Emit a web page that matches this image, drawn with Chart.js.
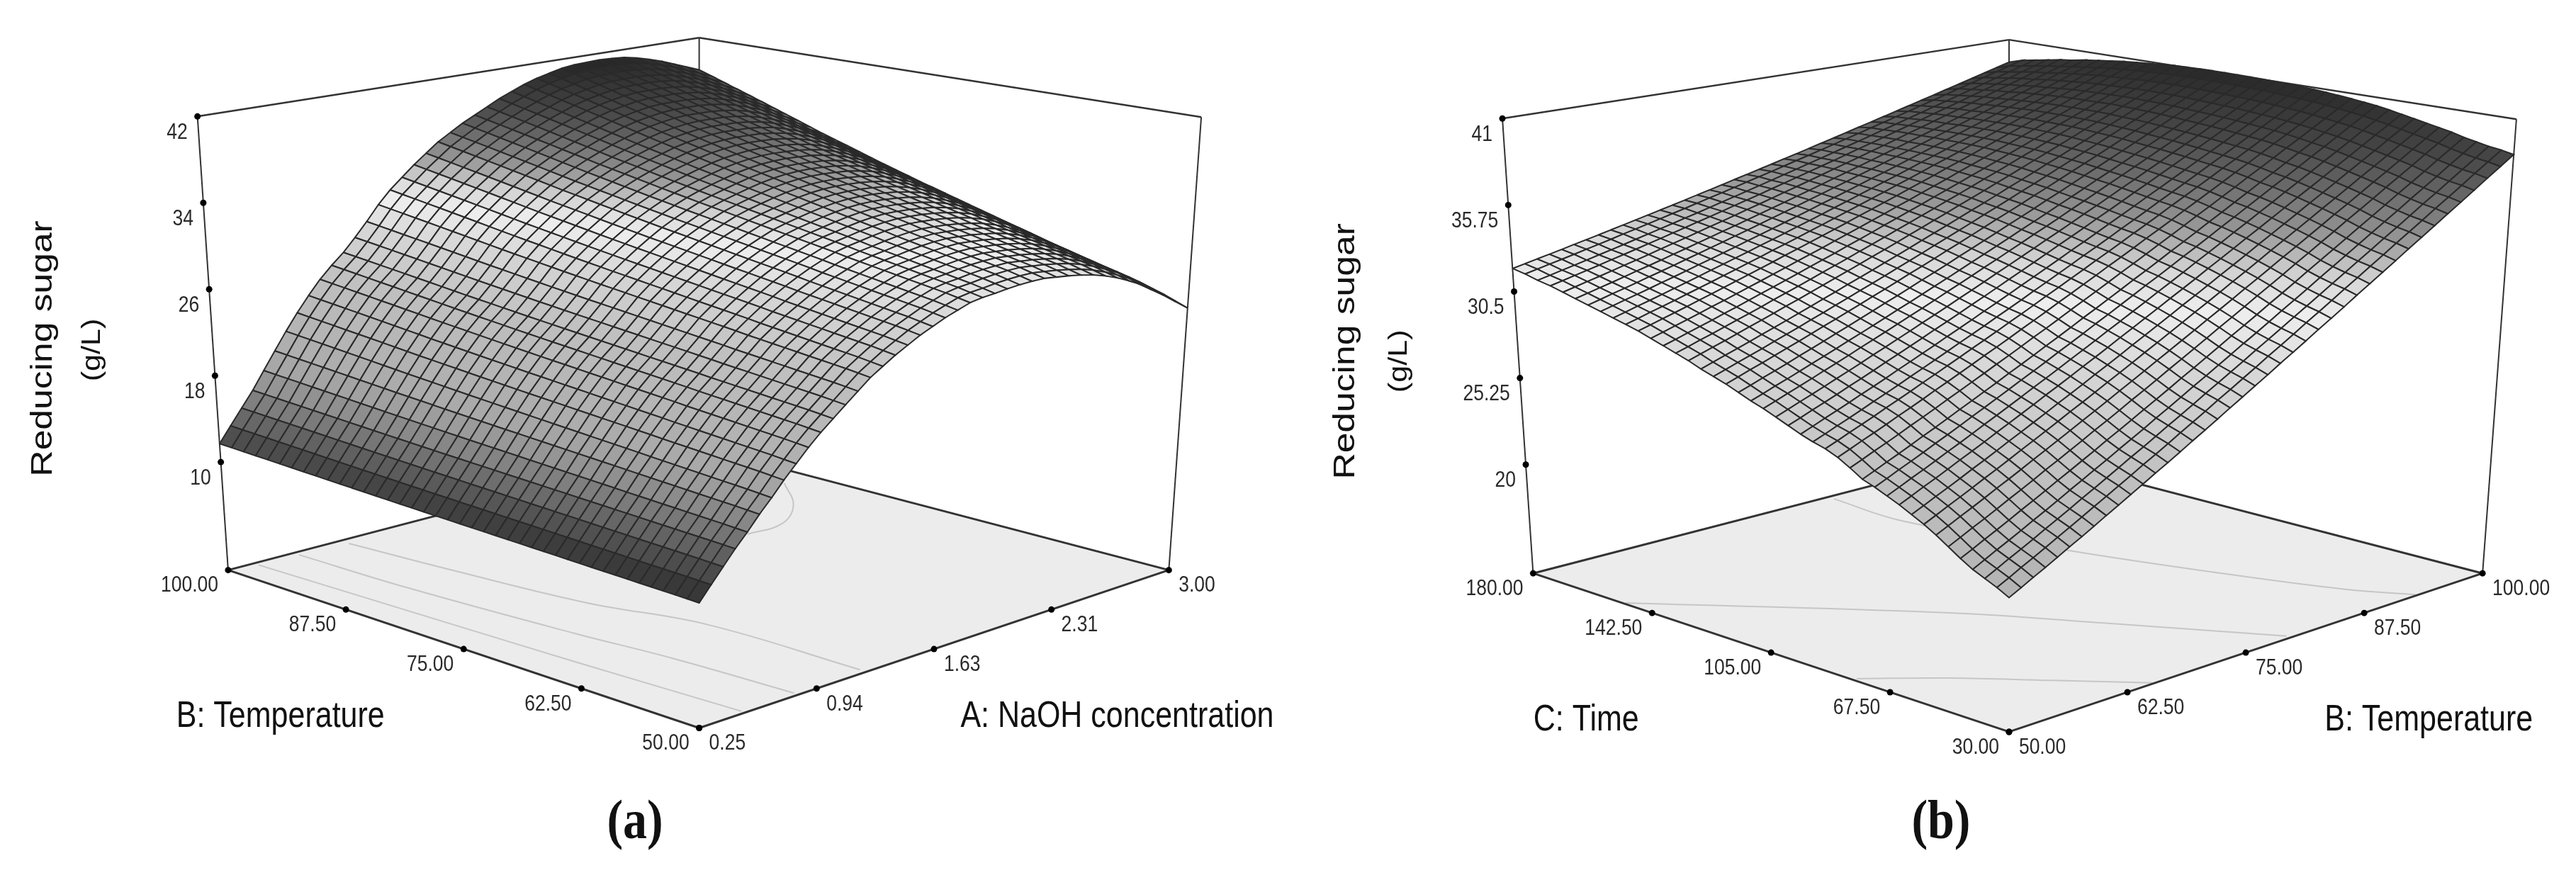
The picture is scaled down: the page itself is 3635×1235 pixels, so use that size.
<!DOCTYPE html>
<html>
<head>
<meta charset="utf-8">
<title>Reducing sugar response surfaces</title>
<script src="https://cdn.jsdelivr.net/npm/chart.js@4"></script>
<style>
    html, body { margin: 0; background: #fff; }
    body { position: relative; width: 3635px; height: 1235px; overflow: hidden; }
    canvas { position: absolute; top: 0; filter: blur(0.6px); }
    #panelA { left: 0; }
    #panelB { left: 1818px; }
</style>
</head>
<body>
<canvas id="panelA" width="1818" height="1235"></canvas>
<canvas id="panelB" width="1817" height="1235"></canvas>
<script>
'use strict';

// panel (a): sugar along the NaOH axis (0.25 -> 3.00) at the two temperature edges
const sugarNaohAt100 = [11.7, 13.1, 14.5, 15.9, 17.5, 19.1, 20.7, 22.2, 23.6, 24.9, 26.0, 27.0, 28.2, 29.5, 30.9, 32.1, 33.1, 34.1, 35.0, 35.9, 36.6, 37.3, 37.9, 38.5, 39.1, 39.6, 40.1, 40.5, 40.8, 41.1, 41.25, 41.3, 41.35, 41.3, 41.2, 40.95, 40.6, 40.2, 39.7, 39.2, 38.7];
const sugarNaohAt50 = [10.3, 11.5, 12.7, 13.9, 15.0, 16.2, 17.3, 18.5, 19.6, 20.7, 21.7, 22.6, 23.5, 24.4, 25.3, 26.0, 26.7, 27.3, 27.9, 28.4, 28.9, 29.3, 29.7, 29.9, 30.0, 30.15, 30.25, 30.3, 30.3, 30.15, 30.0, 29.8, 29.55, 29.2, 28.75, 28.2, 27.6, 26.9, 26.1, 25.2, 24.3];
// how far each temperature row sits between the 100 edge (0) and the 50 edge (1)
const temperatureShareA = [0, .03, .06, .09, .12, .15, .18, .21, .24, .27, .30, .327, .354, .381, .408, .435, .46, .485, .51, .533, .556, .58, .603, .626, .649, .672, .694, .716, .738, .76, .785, .806, .827, .848, .869, .89, .91, .93, .95, .975, 1];

// panel (b): sugar along the time axis (180 -> 30) at the two temperature edges
const sugarTimeAt50 = [31.9, 31.75, 31.55, 31.4, 31.2, 31.0, 30.8, 30.6, 30.4, 30.2, 30.0, 29.75, 29.5, 29.25, 29.0, 28.7, 28.45, 28.2, 27.9, 27.6, 27.35, 27.05, 26.75, 26.45, 26.2, 26.0, 25.7, 25.3, 24.85, 24.6, 24.3, 24.0, 23.65, 23.3, 22.9, 22.45, 22.0, 21.6, 21.3, 21.0, 20.65];
const sugarTimeAt100 = [39.5, 39.75, 39.9, 40.05, 40.2, 40.3, 40.45, 40.55, 40.65, 40.75, 40.82, 40.88, 40.94, 41.0, 41.03, 41.05, 41.06, 41.06, 41.05, 41.04, 41.02, 41.0, 40.97, 40.93, 40.88, 40.82, 40.75, 40.67, 40.58, 40.48, 40.35, 40.2, 40.05, 39.9, 39.75, 39.6, 39.4, 39.25, 39.1, 39.0, 38.85];
// how far each temperature column sits between the 50 edge (0) and the 100 edge (1)
const temperatureShareB = [0, .019, .039, .058, .078, .099, .119, .14, .162, .183, .205, .227, .25, .272, .295, .319, .342, .366, .391, .415, .44, .465, .491, .516, .542, .569, .595, .622, .65, .677, .705, .733, .762, .79, .819, .849, .878, .908, .939, .969, 1];

// tick labels
const sugarTicksA = [42, 34, 26, 18, 10];
const sugarTicksB = ['41', '35.75', '30.5', '25.25', '20'];
const temperatureTicks = ['100.00', '87.50', '75.00', '62.50', '50.00'];
const naohTicks = ['0.25', '0.94', '1.63', '2.31', '3.00'];
const timeTicks = ['180.00', '142.50', '105.00', '67.50', '30.00'];

// contour lines on the floor, [naoh values, temperature values]
const contoursA = [
    [[0.905, 0.965, 1.06, 1.21, 1.23], [99.1, 89.2, 76.6, 66.6, 50.7]],
    [[0.632, 0.654, 0.734, 0.795, 0.833], [99.4, 88.3, 72, 62.7, 50.5]],
    [[0.40, 0.445, 0.473, 0.52], [99.5, 79.7, 67.3, 50.4]],
    [[2.85, 2.645, 2.42, 2.21], [88.2, 83.5, 80.6, 80.5]]
];
// contour lines on the floor, [temperature values, time values]
const contoursB = [
    [[50.2, 66.5, 73, 79.8], [151.4, 98.1, 67.5, 31.5]],
    [[50.4, 55.5, 60.5, 65.3], [79.2, 65.3, 48, 30.5]],
    [[80.95, 80.5, 83.85, 87.5, 90.65, 93.1], [178, 155.3, 112.5, 75, 46, 30.6]]
];

// height colours: the original rainbow map as it came out in greyscale
const shadeHeights = [10, 11.5, 13, 15, 17, 18.5, 21, 25, 29, 31.5, 33, 35, 36.8, 38.5, 40, 41.3];
const shadeGreys = [44, 64, 90, 125, 155, 170, 180, 192, 215, 238, 215, 148, 105, 72, 54, 38];

const GRID_STEPS = 40;
const LABEL_FONT = '"Liberation Sans", Arial, sans-serif';

function steps(from, to) {
    const out = [];
    for (let i = 0; i <= GRID_STEPS; i++) out.push(from + (to - from) * i / GRID_STEPS);
    return out;
}

function mix(a, b, t) {
    return a + (b - a) * t;
}

function shade(z) {
    let i = 0;
    while (i < shadeHeights.length - 2 && z > shadeHeights[i + 1]) i++;
    const t = Math.max(0, Math.min(1, (z - shadeHeights[i]) / (shadeHeights[i + 1] - shadeHeights[i])));
    const g = Math.round(mix(shadeGreys[i], shadeGreys[i + 1], t));
    return `rgb(${g},${g},${g})`;
}

const panelA = {
    id: 'panelA',
    xRange: [0, 1818],
    zRange: [0, 42],
    rightRange: [0.25, 3],
    leftRange: [50, 100],
    floor: { front: [987, 1030.5], right: [1653, 806], back: [987, 631], left: [319, 806] },
    top: { front: [987, 305.5], right: [1699, 162], back: [987, 49], left: [275.5, 161] },
    rightLevels: steps(0.25, 3),
    leftLevels: steps(100, 50),
    sugar: (i, j) => mix(sugarNaohAt100[i], sugarNaohAt50[i], temperatureShareA[j]),
    contours: contoursA,
    zTicks: sugarTicksA.map(String),
    zTickValues: sugarTicksA,
    leftTicks: temperatureTicks,
    rightTicks: naohTicks,
    titles: [
        { text: 'Reducing sugar', x: 69, y: 491, size: 43, align: 'center', angle: -90 },
        { text: '(g/L)', x: 137, y: 493, size: 36, align: 'center', angle: -90 },
        { text: 'B: Temperature', x: 245.5, y: 1029, size: 43, align: 'left' },
        { text: 'A: NaOH concentration', x: 1357.6, y: 1028.5, size: 43, align: 'left' },
        { text: '(a)', x: 896, y: 1187, size: 68, align: 'center', serif: true }
    ]
};

const panelB = {
    id: 'panelB',
    xRange: [1818, 3635],
    zRange: [13.4, 41],
    rightRange: [50, 100],
    leftRange: [30, 180],
    floor: { front: [2835.5, 1036], right: [3507, 810.6], back: [2835.5, 635.5], left: [2160.6, 810.6] },
    top: { front: [2835.5, 309.5], right: [3555, 165], back: [2835.5, 52], left: [2117, 164] },
    rightLevels: steps(50, 100),
    leftLevels: steps(180, 30),
    sugar: (i, j) => mix(sugarTimeAt50[j], sugarTimeAt100[j], temperatureShareB[i]),
    contours: contoursB,
    zTicks: sugarTicksB,
    zTickValues: sugarTicksB.map(Number),
    leftTicks: timeTicks,
    rightTicks: temperatureTicks.slice().reverse(),
    titles: [
        { text: 'Reducing sugar', x: 1907, y: 495, size: 43, align: 'center', angle: -90 },
        { text: '(g/L)', x: 1981, y: 509, size: 36, align: 'center', angle: -90 },
        { text: 'C: Time', x: 2161, y: 1034, size: 43, align: 'left' },
        { text: 'B: Temperature', x: 3283, y: 1034, size: 43, align: 'left' },
        { text: '(b)', x: 2739, y: 1187, size: 68, align: 'center', serif: true }
    ]
};

// u runs front -> right, v runs front -> left, height is straight up between floor and lid
function project(panel, u, v, z) {
    const w = (z - panel.zRange[0]) / (panel.zRange[1] - panel.zRange[0]);
    const corner = (plane, k) => mix(
        mix(plane.front[k], plane.right[k], u),
        mix(plane.left[k], plane.back[k], u),
        v
    );
    return {
        x: mix(corner(panel.floor, 0), corner(panel.top, 0), w),
        y: mix(corner(panel.floor, 1), corner(panel.top, 1), w)
    };
}

function axisShare(range, value) {
    return (value - range[0]) / (range[1] - range[0]);
}

function pathDataset(points, style) {
    return Object.assign({
        data: points,
        showLine: true,
        pointRadius: 0,
        pointHitRadius: 0,
        clip: false
    }, style);
}

function frameLine(panel, from, to, width) {
    return pathDataset([
        { x: from[0], y: from[1] },
        { x: to[0], y: to[1] }
    ], { borderColor: '#333', borderWidth: width });
}

function surfaceCells(panel) {
    const cells = [];
    const us = panel.rightLevels.map((value) => axisShare(panel.rightRange, value));
    const vs = panel.leftLevels.map((value) => axisShare(panel.leftRange, value));
    const corner = (i, j) => project(panel, us[i], vs[j], panel.sugar(i, j));
    for (let i = 0; i < GRID_STEPS; i++) {
        for (let j = 0; j < GRID_STEPS; j++) {
            const height = (panel.sugar(i, j) + panel.sugar(i + 1, j) + panel.sugar(i, j + 1) + panel.sugar(i + 1, j + 1)) / 4;
            cells.push({
                depth: us[i] + us[i + 1] + vs[j] + vs[j + 1],
                dataset: pathDataset(
                    [corner(i, j), corner(i + 1, j), corner(i + 1, j + 1), corner(i, j + 1), corner(i, j)],
                    { backgroundColor: shade(height), fill: 'shape', borderColor: '#2a2a2a', borderWidth: 2 }
                )
            });
        }
    }
    cells.sort((a, b) => b.depth - a.depth);
    return cells.map((cell) => cell.dataset);
}

function tickPoints(panel) {
    const f = panel.floor;
    const points = [];
    const along = (a, b, n, i) => ({ x: mix(a[0], b[0], i / n), y: mix(a[1], b[1], i / n) });
    for (let i = 0; i < 5; i++) {
        points.push(along(f.left, f.front, 4, i));
        points.push(along(f.front, f.right, 4, i));
    }
    panel.zTickValues.forEach((value) => points.push(project(panel, 0, 1, value)));
    return points;
}

function panelTexts(panel) {
    const f = panel.floor;
    const texts = [];
    panel.leftTicks.forEach((text, i) => {
        texts.push({ text, x: mix(f.left[0], f.front[0], i / 4) - 14, y: mix(f.left[1], f.front[1], i / 4) + 31, size: 26.5, align: 'right' });
    });
    panel.rightTicks.forEach((text, i) => {
        texts.push({ text, x: mix(f.front[0], f.right[0], i / 4) + 14, y: mix(f.front[1], f.right[1], i / 4) + 31, size: 26.5, align: 'left' });
    });
    panel.zTicks.forEach((text, i) => {
        const p = project(panel, 0, 1, panel.zTickValues[i]);
        texts.push({ text, x: p.x - 14, y: p.y + 32, size: 26.5, align: 'right' });
    });
    return texts.concat(panel.titles);
}

const textPlugin = {
    id: 'panelText',
    afterDraw(chart, args, options) {
        const { ctx, scales } = chart;
        options.items.forEach((item) => {
            ctx.save();
            ctx.translate(scales.x.getPixelForValue(item.x), scales.y.getPixelForValue(item.y));
            if (item.angle) {
                ctx.rotate(item.angle * Math.PI / 180);
                ctx.scale(1.2, 1);
            } else {
                ctx.scale(1, item.serif ? 1.15 : 1.2);
            }
            ctx.font = item.serif ? `bold ${item.size}px "Liberation Serif", serif` : `${item.size}px ${LABEL_FONT}`;
            ctx.fillStyle = item.size < 30 ? '#2a2a2a' : '#111';
            ctx.textAlign = item.align;
            ctx.textBaseline = 'alphabetic';
            ctx.fillText(item.text, 0, 0);
            ctx.restore();
        });
    }
};

function makePanel(panel) {
    const f = panel.floor;
    const t = panel.top;
    // listed back to front, the chart paints its first dataset last
    const layers = [];
    layers.push(pathDataset(
        [f.front, f.right, f.back, f.left, f.front].map((c) => ({ x: c[0], y: c[1] })),
        { backgroundColor: '#ececec', fill: 'shape', borderWidth: 0, borderColor: 'transparent' }
    ));
    panel.contours.forEach((contour) => {
        layers.push(pathDataset(contour[0].map((value, i) => {
            return project(panel, axisShare(panel.rightRange, value), axisShare(panel.leftRange, contour[1][i]), panel.zRange[0]);
        }), { borderColor: '#c6c6c6', borderWidth: 2, tension: 0.4 }));
    });
    layers.push(frameLine(panel, f.left, f.back, 3));
    layers.push(frameLine(panel, f.back, f.right, 3));
    layers.push(frameLine(panel, f.back, t.back, 2));
    layers.push(frameLine(panel, t.left, t.back, 2.5));
    layers.push(frameLine(panel, t.back, t.right, 2.5));
    layers.push(frameLine(panel, f.left, t.left, 2));
    layers.push(frameLine(panel, f.right, t.right, 2));
    surfaceCells(panel).forEach((dataset) => layers.push(dataset));
    layers.push(frameLine(panel, f.left, f.front, 3));
    layers.push(frameLine(panel, f.front, f.right, 3));
    layers.push({
        data: tickPoints(panel),
        showLine: false,
        pointRadius: 4.5,
        pointBackgroundColor: '#000',
        pointBorderWidth: 0,
        clip: false
    });

    return new Chart(document.getElementById(panel.id), {
        type: 'scatter',
        data: { datasets: layers.reverse() },
        plugins: [textPlugin],
        options: {
            responsive: false,
            animation: false,
            events: [],
            layout: { padding: 0 },
            plugins: {
                legend: { display: false },
                tooltip: { enabled: false },
                panelText: { items: panelTexts(panel) }
            },
            scales: {
                x: { type: 'linear', display: false, min: panel.xRange[0], max: panel.xRange[1] },
                y: { type: 'linear', display: false, min: 0, max: 1235, reverse: true }
            }
        }
    });
}

makePanel(panelA);
makePanel(panelB);
</script>
</body>
</html>
